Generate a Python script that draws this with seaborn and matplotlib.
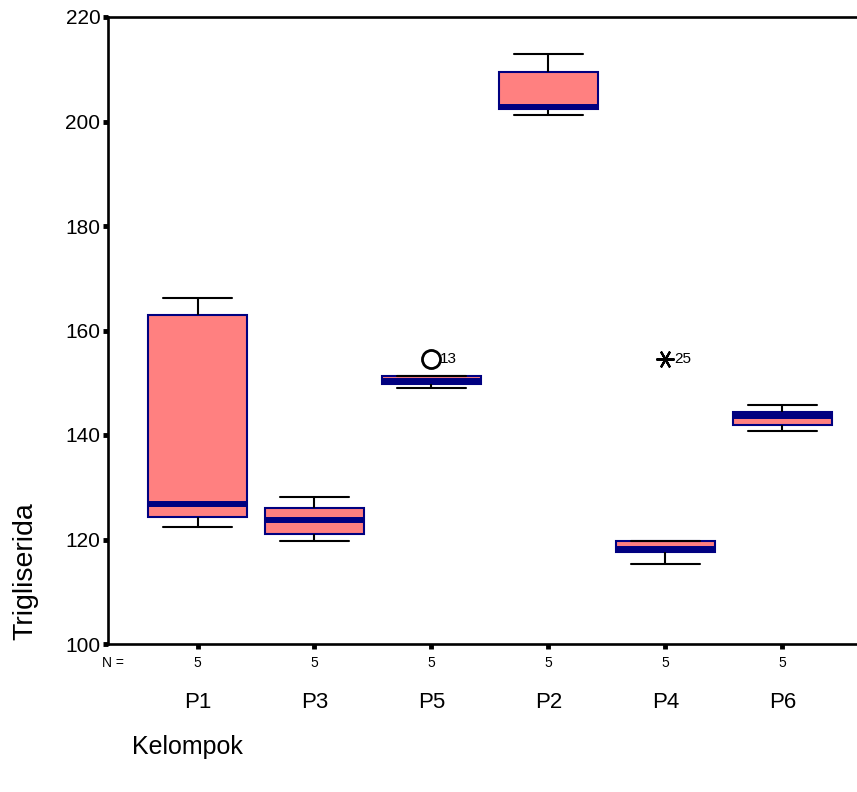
import numpy as np
import pandas as pd
import matplotlib
matplotlib.use("Agg")
import matplotlib.pyplot as plt
import seaborn as sns

# ---- data ----
groups = ["P1", "P3", "P5", "P2", "P4", "P6"]
p1 = [122.3, 124.4, 126.7, 162.9, 166.2]
p3 = [119.8, 121.0, 123.8, 126.1, 128.2]
p5 = [149.0, 149.8, 150.4, 151.3, 154.5]
p2 = [201.3, 202.4, 202.8, 209.5, 212.9]
p4 = [115.3, 117.6, 118.1, 119.7, 154.5]
p6 = [140.7, 141.9, 143.6, 144.4, 145.8]
case_ids_p5 = [9, 10, 11, 12, 13]
case_ids_p4 = [21, 22, 23, 24, 25]
y_ticks = [100, 120, 140, 160, 180, 200, 220]
x_label = "Kelompok"
y_label = "Trigliserida"

values = [p1, p3, p5, p2, p4, p6]
case_ids = [[1, 2, 3, 4, 5], [11, 12, 13, 14, 15], case_ids_p5,
            [6, 7, 8, 9, 10], case_ids_p4, [26, 27, 28, 29, 30]]
df = pd.DataFrame({
    "Kelompok": np.repeat(groups, [len(v) for v in values]),
    "Trigliserida": np.concatenate(values),
    "case": np.concatenate(case_ids),
})

sns.set_style("white")
plt.rcParams["font.family"] = ["Liberation Sans", "DejaVu Sans"]
plt.rcParams["text.color"] = "black"
plt.rcParams["axes.labelcolor"] = "black"
plt.rcParams["xtick.color"] = "black"
plt.rcParams["ytick.color"] = "black"

W, H = 857, 792
fig = plt.figure(figsize=(W / 100, H / 100), dpi=100)
ax = fig.add_axes([108 / W, 1 - 644 / H, 1 - 108 / W, (644 - 17) / H])

FILL = "#FF8080"
NAVY = "#000080"

sns.boxplot(
    data=df, x="Kelompok", y="Trigliserida", order=groups, ax=ax,
    color=FILL, saturation=1, width=0.85, linecolor=NAVY, linewidth=1.5,
    showfliers=False, whis=1.5,
    medianprops=dict(color=NAVY, linewidth=4.3, solid_capstyle="butt"),
    whiskerprops=dict(color="black", linewidth=1.5),
    capprops=dict(color="black", linewidth=1.5),
    capwidths=0.59,
)

# outliers / extremes (SPSS style: circle for >1.5 IQR, star for >3 IQR)
for i, g in enumerate(groups):
    sub = df[df["Kelompok"] == g]
    v = sub["Trigliserida"].to_numpy()
    q1, q3 = np.percentile(v, [25, 75])
    iqr = q3 - q1
    for val, cid in zip(v, sub["case"]):
        if val > q3 + 1.5 * iqr or val < q1 - 1.5 * iqr:
            extreme = val > q3 + 3 * iqr or val < q1 - 3 * iqr
            if extreme:
                ax.plot(i, val, marker=(6, 2, 90), ms=13, mew=1.6,
                        color="black", zorder=5)
            else:
                ax.plot(i, val, marker="o", ms=13, mfc="none", mew=2,
                        mec="black", zorder=5)
            ax.annotate(str(cid), xy=(i, val), xytext=(6, 0),
                        textcoords="offset points", ha="left", va="center",
                        fontsize=11, color="black")

ax.set_xlim(-0.765, 5.637)
ax.set_ylim(100, 220)
ax.set_yticks(y_ticks)

for s in ["left", "top", "bottom"]:
    ax.spines[s].set_visible(True)
    ax.spines[s].set_color("black")
    ax.spines[s].set_linewidth(1.9)
ax.spines["right"].set_visible(False)

ax.tick_params(axis="y", direction="out", length=3.5, width=3.5,
               labelsize=15, pad=2, left=True, color="black",
               labelcolor="black")
ax.tick_params(axis="x", direction="out", length=3.5, width=3.5,
               labelsize=16, pad=31, bottom=True, color="black",
               labelcolor="black")

# N = row
ax.annotate("N =", xy=(0.021, 0), xycoords="axes fraction", xytext=(0, -14),
            textcoords="offset points", ha="right", va="center", fontsize=10,
            color="black")
for i, g in enumerate(groups):
    n = int((df["Kelompok"] == g).sum())
    ax.annotate(str(n), xy=(i, 0), xycoords=("data", "axes fraction"),
                xytext=(0, -14), textcoords="offset points",
                ha="center", va="center", fontsize=10, color="black")

ax.set_ylabel(y_label, fontsize=20.5, color="black")
ax.yaxis.set_label_coords(-0.093, 0.116)
ax.set_xlabel(x_label, fontsize=18, color="black")
ax.xaxis.set_label_coords(0.1055, -0.145)

fig.savefig("out.png", dpi=100)
